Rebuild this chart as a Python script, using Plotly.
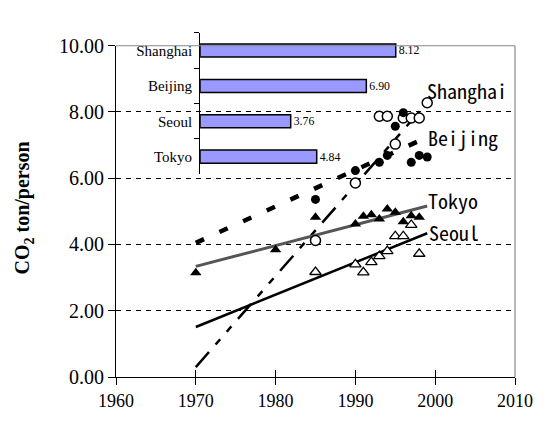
import plotly.graph_objects as go

# ---- scatter data (CO2 emissions, ton per person) ----
sh_years = [1985, 1990, 1993, 1994, 1995, 1996, 1997, 1998, 1999]
sh_vals = [4.12, 5.86, 7.87, 7.87, 7.03, 7.82, 7.82, 7.82, 8.28]

bj_years = [1985, 1990, 1993, 1994, 1995, 1996, 1997, 1998, 1999]
bj_vals = [5.36, 6.23, 6.48, 6.69, 7.57, 7.98, 6.48, 6.69, 6.64]

tk_years = [1970, 1980, 1985, 1990, 1991, 1992, 1993, 1994, 1995, 1996, 1997, 1998]
tk_vals = [3.15, 3.84, 4.82, 4.62, 4.85, 4.90, 4.77, 5.07, 4.97, 4.69, 4.87, 4.82]

se_years = [1985, 1990, 1991, 1992, 1993, 1994, 1995, 1996, 1997, 1998]
se_vals = [3.17, 3.40, 3.16, 3.47, 3.65, 3.80, 4.25, 4.25, 4.59, 3.72]

# ---- linear trend lines (end points) ----
trend_years = [1970, 1999]
sh_trend = [0.30, 8.28]
bj_trend = [4.05, 7.24]
tk_trend = [3.34, 5.16]
se_trend = [1.51, 4.34]

# ---- 1998 inset bar chart ----
cities = ["Shanghai", "Beijing", "Seoul", "Tokyo"]
cities_1998 = [8.12, 6.90, 3.76, 4.84]

x_ticks = [1960, 1970, 1980, 1990, 2000, 2010]
y_ticks = [0, 2, 4, 6, 8, 10]

SERIF = "Liberation Serif, Times New Roman, serif"
MONO = "Noto Sans Mono CJK JP, DejaVu Sans Mono, monospace"

fig = go.Figure()

# trend lines
fig.add_trace(go.Scatter(x=trend_years, y=sh_trend, mode="lines",
                         line=dict(color="black", width=2.5, dash="20px,10px,7px,10px,7px,10px")))
fig.add_trace(go.Scatter(x=trend_years, y=bj_trend, mode="lines",
                         line=dict(color="black", width=4.5, dash="9px,17px")))
fig.add_trace(go.Scatter(x=trend_years, y=tk_trend, mode="lines",
                         line=dict(color="#555555", width=3)))
fig.add_trace(go.Scatter(x=trend_years, y=se_trend, mode="lines",
                         line=dict(color="black", width=2.5)))

# observed points
fig.add_trace(go.Scatter(x=sh_years, y=sh_vals, mode="markers",
                         marker=dict(symbol="circle", size=10, color="white",
                                     line=dict(color="black", width=1.5))))
fig.add_trace(go.Scatter(x=bj_years, y=bj_vals, mode="markers",
                         marker=dict(symbol="circle", size=9, color="black")))
fig.add_trace(go.Scatter(x=tk_years, y=tk_vals, mode="markers",
                         marker=dict(symbol="triangle-up", size=10, color="black")))
fig.add_trace(go.Scatter(x=se_years, y=se_vals, mode="markers",
                         marker=dict(symbol="triangle-up", size=10, color="white",
                                     line=dict(color="black", width=1.3))))

# invisible trace that carries the overlay x axis with the inner half of the ticks
fig.add_trace(go.Scatter(x=[1960], y=[0], xaxis="x2", yaxis="y", mode="markers",
                         marker=dict(opacity=0), hoverinfo="skip"))

# inset bars
fig.add_trace(go.Bar(x=cities_1998, y=cities, orientation="h", xaxis="x4", yaxis="y4",
                     marker=dict(color="#9999FF", line=dict(color="black", width=1.5)),
                     text=cities_1998, texttemplate="%{x:.2f}", textposition="outside",
                     textfont=dict(family=SERIF, size=13.5, color="black"),
                     cliponaxis=False, width=0.37))

main_dom_y = [0, 335 / 358]

fig.update_layout(
    width=545, height=423,
    margin=dict(l=116, r=21, t=20, b=45),
    paper_bgcolor="white", plot_bgcolor="rgba(0,0,0,0)",
    showlegend=False,
    xaxis=dict(range=[1960, 2010], tickvals=x_ticks, ticks="outside", ticklen=7,
               tickcolor="black", showline=True, linecolor="black", linewidth=1,
               showgrid=False, zeroline=False, anchor="y",
               tickfont=dict(family=SERIF, size=18, color="black")),
    xaxis2=dict(range=[1960, 2010], tickvals=x_ticks, ticks="inside", ticklen=7,
                tickcolor="black", showticklabels=False, showline=False,
                showgrid=False, zeroline=False, overlaying="x", anchor="y", side="bottom"),
    yaxis=dict(range=[0, 10], domain=main_dom_y, tickvals=y_ticks,
               ticktext=[f"{v:.2f}" for v in y_ticks], ticks="outside", ticklen=7,
               tickcolor="black", showline=True, linecolor="black", linewidth=1,
               showgrid=True, gridcolor="black", gridwidth=1, griddash="5px,5px",
               zeroline=False, anchor="x",
               tickfont=dict(family=SERIF, size=20, color="black")),
    xaxis4=dict(domain=[86 / 408, 1], range=[0, 13.07], visible=False, anchor="y4"),
    yaxis4=dict(domain=[205 / 358, 348 / 358], anchor="x4", type="category",
                categoryorder="array", categoryarray=cities, autorange="reversed",
                showline=True, linecolor="black", linewidth=1, ticks="outside",
                ticklen=5, tickcolor="black", tickson="boundaries", showgrid=False,
                zeroline=False, ticklabelstandoff=4,
                tickfont=dict(family=SERIF, size=15, color="black")),
    bargap=0.63,
)

# grey frame on the top and right of the main plot area
fig.add_shape(type="line", xref="x domain", yref="y domain", x0=0, x1=1, y0=1, y1=1,
              line=dict(color="#888888", width=1.2), layer="above")
fig.add_shape(type="line", xref="x domain", yref="y domain", x0=1, x1=1, y0=0, y1=1,
              line=dict(color="#888888", width=1.2), layer="above")

# city labels at the ends of the trend lines
labels = [("Shanghai", 1998.7, 8.66), ("Beijing", 1998.8, 7.22),
          ("Tokyo", 1998.8, 5.34), ("Seoul", 1999.0, 4.36)]
for name, lx, ly in labels:
    fig.add_annotation(x=lx, y=ly, xref="x", yref="y", text=name, showarrow=False,
                       xanchor="left", yanchor="middle",
                       font=dict(family=MONO, size=20, color="black"))

# inset title
fig.add_annotation(x=1980, y=10.63, xref="x", yref="y", text="1998", showarrow=False,
                   xanchor="center", yanchor="middle",
                   font=dict(family=SERIF, size=13, color="black"))

# y-axis title
fig.add_annotation(x=-0.232, y=5.1, xref="paper", yref="y",
                   text="<b>CO<sub>2</sub> ton/person</b>", showarrow=False,
                   textangle=-90, xanchor="center", yanchor="middle",
                   font=dict(family=SERIF, size=20, color="black"))

fig.write_html("out.html")
